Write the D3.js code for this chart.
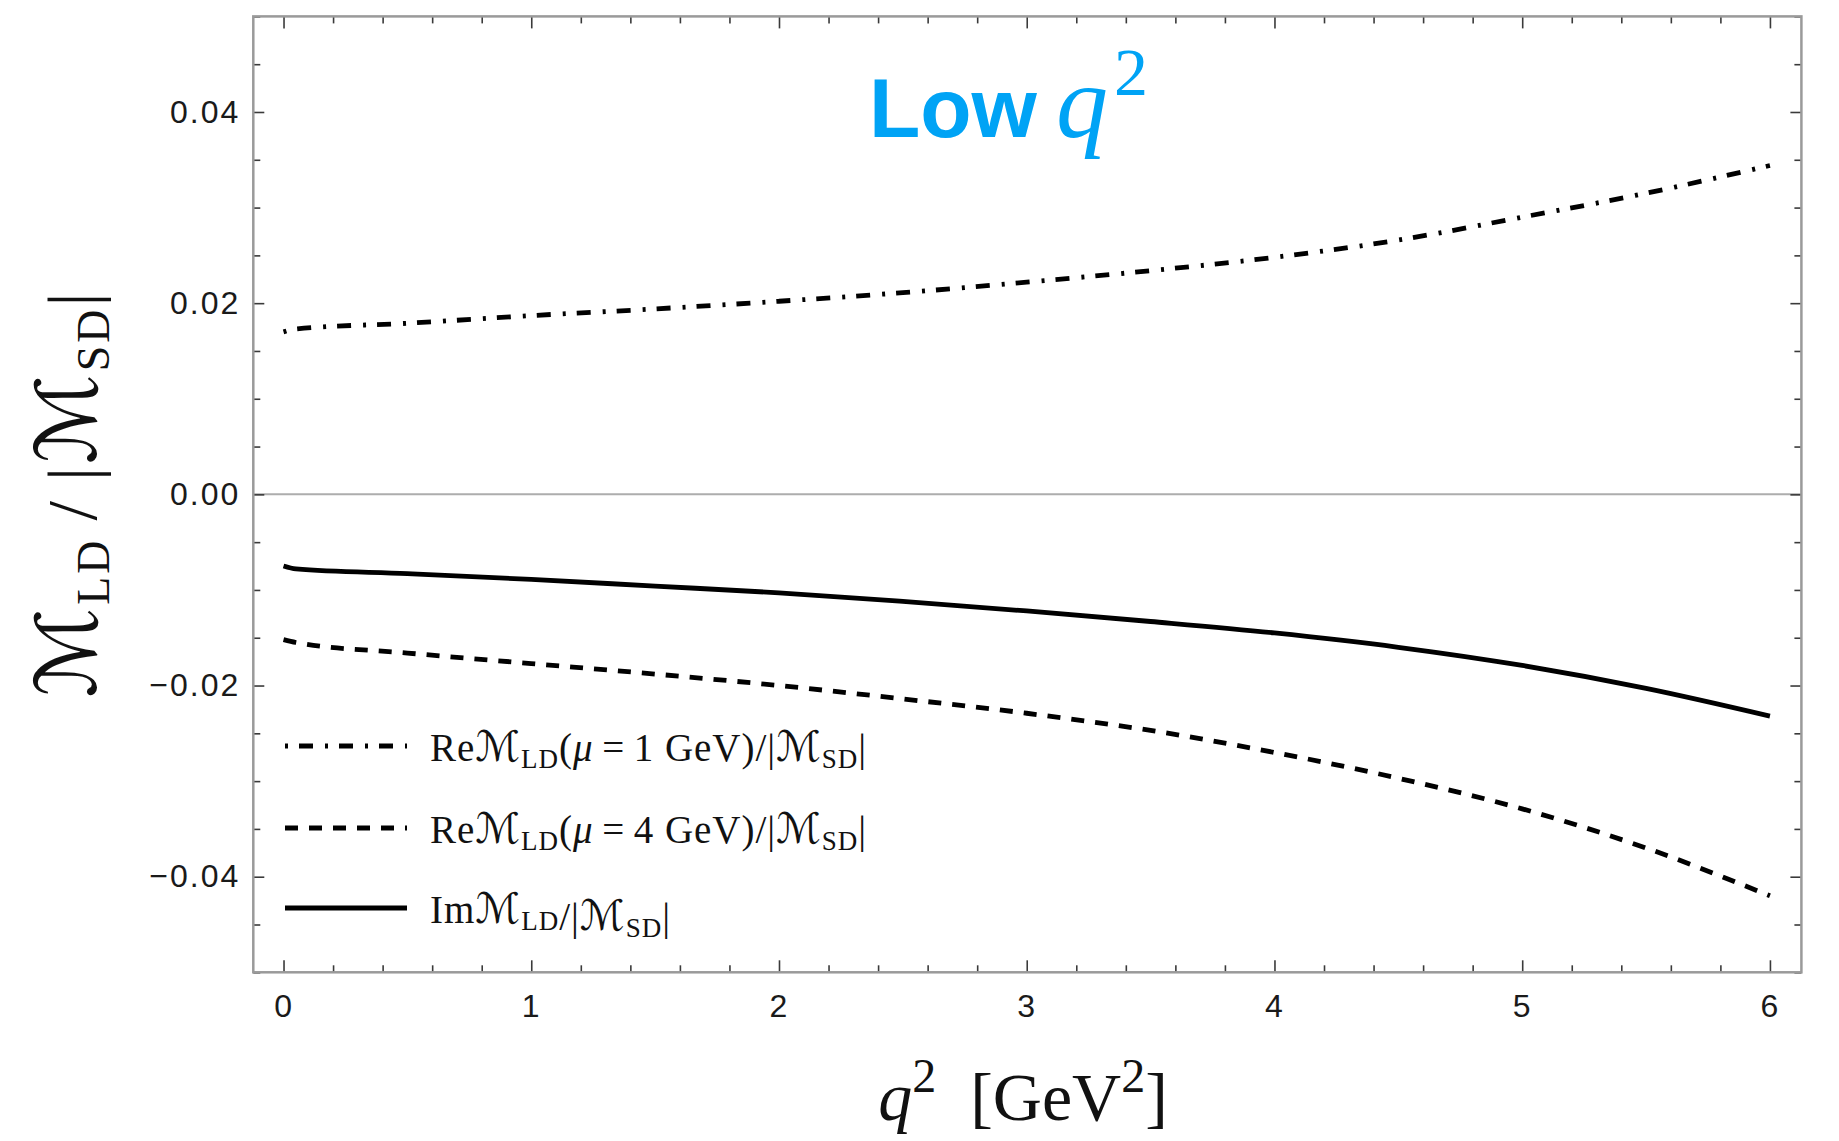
<!DOCTYPE html>
<html>
<head>
<meta charset="utf-8">
<script src="https://cdn.jsdelivr.net/npm/d3@7"></script>
<style>
body { margin: 0; background: #fff; }
#chart { width: 1839px; height: 1141px; }
.axis path { display: none; }
.axis line { stroke: #3a3a3a; stroke-width: 1.6; }
.axis text { font-family: 'Liberation Sans', Arial, sans-serif; font-size: 32px; fill: #1a1a1a; letter-spacing: 2px; }
.serif { font-family: 'Liberation Serif', 'Times New Roman', serif; fill: #111; }
.script { font-family: 'DejaVu Serif', 'DejaVu Sans', serif; }
</style>
</head>
<body>
<div id="chart"></div>
<script>
/* globals d3 */

// q^2 sample points [GeV^2]
var q2 = [0, 0.05, 0.5, 1, 1.5, 2, 2.5, 3, 3.5, 4, 4.5, 5, 5.5, 6];

// Re M_LD(mu = 1 GeV) / |M_SD|  (dash-dot)
var reMu1 = [0.0170, 0.0173, 0.0179, 0.0187, 0.0194, 0.0202, 0.0211, 0.0222, 0.0234, 0.0248, 0.0266, 0.0290, 0.0315, 0.0344];

// Re M_LD(mu = 4 GeV) / |M_SD|  (dashed)
var reMu4 = [-0.0152, -0.0155, -0.0166, -0.0177, -0.0188, -0.0200, -0.0214, -0.0229, -0.0247, -0.0270, -0.0297, -0.0329, -0.0370, -0.0420];

// Im M_LD / |M_SD|  (solid)
var imPart = [-0.0075, -0.0078, -0.0083, -0.0089, -0.0096, -0.0103, -0.0112, -0.0122, -0.0133, -0.0145, -0.0160, -0.0179, -0.0203, -0.0232];

// Tick labels
var xTicks = [0, 1, 2, 3, 4, 5, 6];
var yTicks = [-0.04, -0.02, 0, 0.02, 0.04];

// Legend order (top to bottom)
var legendKeys = ['reMu1', 'reMu4', 'imPart'];

// Line styles
var dashes = {
    reMu1: {dash: '14,12,3,11', offset: 26},
    reMu4: {dash: '13,11', offset: 0},
    imPart: {dash: null, offset: 0}
};

var margin = {top: 16.4, right: 37.6, bottom: 168.7, left: 253.3};
var width = 1839 - margin.left - margin.right;
var height = 1141 - margin.top - margin.bottom;

var x = d3.scaleLinear().domain([-0.122, 6.127]).range([0, width]);
var y = d3.scaleLinear().domain([-0.05, 0.05]).range([height, 0]);

var svg = d3.select('#chart').append('svg')
    .attr('width', 1839)
    .attr('height', 1141)
    .append('g')
    .attr('transform', 'translate(' + margin.left + ',' + margin.top + ')');

// minor tick positions
var xMinor = d3.range(0, 31).map(function(i) { return i * 0.2; })
    .filter(function(d) { return Math.abs(d - Math.round(d)) > 1e-6; });
var yMinor = d3.range(-10, 11).map(function(i) { return i * 0.005; })
    .filter(function(d) { return Math.abs(d * 50 - Math.round(d * 50)) > 1e-6; });

// zero line
svg.append('line')
    .attr('x1', 0).attr('x2', width)
    .attr('y1', y(0)).attr('y2', y(0))
    .attr('stroke', '#adadad')
    .attr('stroke-width', 2);

// Axes, ticks point inwards on all four sides
var fmtY = d3.format('.2f');

svg.append('g').attr('class', 'axis')
    .attr('transform', 'translate(0,' + height + ')')
    .call(d3.axisBottom(x).tickValues(xTicks).tickSize(-12).tickPadding(22).tickFormat(d3.format('d')));
svg.append('g').attr('class', 'axis')
    .attr('transform', 'translate(0,' + height + ')')
    .call(d3.axisBottom(x).tickValues(xMinor).tickSize(-7).tickFormat(''));
svg.append('g').attr('class', 'axis')
    .call(d3.axisTop(x).tickValues(xTicks).tickSize(-12).tickFormat(''));
svg.append('g').attr('class', 'axis')
    .call(d3.axisTop(x).tickValues(xMinor).tickSize(-7).tickFormat(''));

svg.append('g').attr('class', 'axis')
    .call(d3.axisLeft(y).tickValues(yTicks).tickSize(-11).tickPadding(13).tickFormat(fmtY));
svg.append('g').attr('class', 'axis')
    .call(d3.axisLeft(y).tickValues(yMinor).tickSize(-7).tickFormat(''));
svg.append('g').attr('class', 'axis')
    .attr('transform', 'translate(' + width + ',0)')
    .call(d3.axisRight(y).tickValues(yTicks).tickSize(-11).tickFormat(''));
svg.append('g').attr('class', 'axis')
    .attr('transform', 'translate(' + width + ',0)')
    .call(d3.axisRight(y).tickValues(yMinor).tickSize(-7).tickFormat(''));

// Frame
svg.append('rect')
    .attr('width', width)
    .attr('height', height)
    .attr('fill', 'none')
    .attr('stroke', '#9a9a9a')
    .attr('stroke-width', 2.5);

// Curves
var series = {reMu1: reMu1, reMu4: reMu4, imPart: imPart};
var line = d3.line()
    .x(function(d) { return x(d[0]); })
    .y(function(d) { return y(d[1]); })
    .curve(d3.curveMonotoneX);

legendKeys.forEach(function(k) {
    svg.append('path')
        .datum(d3.zip(q2, series[k]))
        .attr('d', line)
        .attr('fill', 'none')
        .attr('stroke', '#000')
        .attr('stroke-width', 4.8)
        .attr('stroke-dasharray', dashes[k].dash)
        .attr('stroke-dashoffset', dashes[k].offset);
});

// Legend
var legendRows = [746 - margin.top, 828 - margin.top, 908 - margin.top];
var legendWidths = [436, 436, 240];
var legend = svg.selectAll('.legend')
    .data(legendKeys)
    .enter().append('g')
    .attr('class', 'legend')
    .attr('transform', function(d, i) { return 'translate(0,' + legendRows[i] + ')'; });

legend.append('line')
    .attr('x1', 285 - margin.left)
    .attr('x2', 407 - margin.left)
    .attr('stroke', '#000')
    .attr('stroke-width', 4.8)
    .attr('stroke-dasharray', function(d) { return dashes[d].dash; })
    .attr('stroke-dashoffset', function(d) { return dashes[d].offset; });

var legText = legend.append('text')
    .attr('class', 'serif')
    .attr('x', 430 - margin.left)
    .attr('y', 15)
    .attr('textLength', function(d, i) { return legendWidths[i]; })
    .attr('lengthAdjust', 'spacing')
    .style('font-size', '39px');

function addMath(t, prefix, mid) {
    // prefix + M_LD + mid + /|M_SD|
    t.append('tspan').text(prefix);
    t.append('tspan').attr('class', 'script').style('font-style', 'italic').style('font-size', '42px').text('ℳ');
    t.append('tspan').attr('dy', 7).style('font-size', '27px').text('LD');
    t.append('tspan').attr('dy', -7).html(mid);
    t.append('tspan').text('/|');
    t.append('tspan').attr('class', 'script').style('font-style', 'italic').style('font-size', '42px').text('ℳ');
    t.append('tspan').attr('dy', 7).style('font-size', '27px').text('SD');
    t.append('tspan').attr('dy', -7).text('|');
}

legText.each(function(d) {
    var t = d3.select(this);
    if (d === 'reMu1') {
        addMath(t, 'Re', '(<tspan font-style="italic">μ</tspan>\u2009=\u20091 GeV)');
    } else if (d === 'reMu4') {
        addMath(t, 'Re', '(<tspan font-style="italic">μ</tspan>\u2009=\u20094 GeV)');
    } else {
        addMath(t, 'Im', '');
    }
});

// Y axis label
var ylab = svg.append('text')
    .attr('class', 'serif')
    .attr('transform', 'translate(' + (96 - margin.left) + ',' + (495 - margin.top) + ') rotate(-90)')
    .style('text-anchor', 'middle')
    .attr('textLength', 405)
    .attr('lengthAdjust', 'spacing')
    .style('font-size', '70px');
ylab.append('tspan').attr('class', 'script').style('font-style', 'italic').style('font-size', '84px').text('ℳ');
ylab.append('tspan').attr('dy', 13).style('font-size', '46px').text('LD');
ylab.append('tspan').attr('dy', -13).text('\u2009/\u2009|');
ylab.append('tspan').attr('class', 'script').style('font-style', 'italic').style('font-size', '84px').text('ℳ');
ylab.append('tspan').attr('dy', 13).style('font-size', '46px').text('SD');
ylab.append('tspan').attr('dy', -13).text('|');

// X axis label
var xlab = svg.append('text')
    .attr('class', 'serif')
    .attr('x', 1023 - margin.left)
    .attr('y', 1120 - margin.top)
    .style('text-anchor', 'middle')
    .style('font-size', '68px');
xlab.append('tspan').style('font-style', 'italic').text('q');
xlab.append('tspan').attr('dy', -28).style('font-size', '48px').text('2');
xlab.append('tspan').attr('dy', 28).text('\u2002[GeV');
xlab.append('tspan').attr('dy', -28).style('font-size', '48px').text('2');
xlab.append('tspan').attr('dy', 28).text(']');

// Title
var title = svg.append('text')
    .attr('x', 869 - margin.left)
    .attr('y', 137 - margin.top)
    .style('fill', '#00a3f5');
title.append('tspan')
    .style('font-family', "'Liberation Sans', Arial, sans-serif")
    .style('font-weight', 'bold')
    .style('font-size', '84px')
    .text('Low');
title.append('tspan')
    .attr('x', 1056 - margin.left)
    .style('font-family', "'Liberation Serif', serif")
    .style('font-style', 'italic')
    .style('font-size', '104px')
    .text('q');
title.append('tspan')
    .attr('x', 1114 - margin.left)
    .attr('dy', -42)
    .style('font-family', "'Liberation Serif', serif")
    .style('font-size', '68px')
    .text('2');
</script>
</body>
</html>
